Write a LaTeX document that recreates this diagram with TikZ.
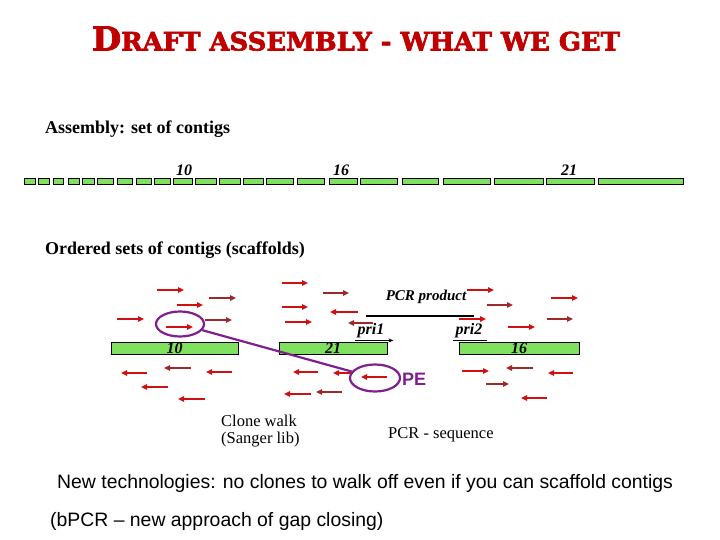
\documentclass[tikz,border=0pt]{standalone}
\usepackage{fontspec}
\setmainfont{Liberation Serif}
\newfontfamily\sansf{Liberation Sans}
\newfontfamily\ttlf[BoldFeatures={FakeBold=2.5}]{DejaVu Serif}
\usetikzlibrary{arrows.meta,shapes.geometric}
\definecolor{contig}{HTML}{80E060}
\definecolor{ttl}{HTML}{C00000}
\definecolor{arr}{HTML}{D01010}
\definecolor{arrd}{HTML}{A02828}
\definecolor{pur}{HTML}{7F1F8F}
\begin{document}
\begin{tikzpicture}[x=1pt,y=-1pt,
  seg/.style={draw=black,line width=0.6pt,fill=contig},
  bar/.style={draw=black,line width=0.8pt,fill=contig,inner sep=0pt,minimum height=12pt,font=\fontsize{16}{16}\selectfont\bfseries\itshape},
  rarr/.style={draw=arr,line width=2pt,-{Triangle[length=6pt,width=5.5pt]}},
  darr/.style={draw=arrd,line width=2pt,-{Triangle[length=6pt,width=5.5pt]}},
  ring/.style={ellipse,draw=pur,line width=2.2pt,inner sep=0pt},
  lbl/.style={font=\fontsize{16.5}{16.5}\selectfont,anchor=west,inner sep=0pt},
  head/.style={font=\fontsize{18}{18}\selectfont\bfseries,anchor=west,inner sep=0pt},
  toplbl/.style={font=\fontsize{16}{16}\selectfont\bfseries\itshape,inner sep=0pt,anchor=base},
  prim/.style={font=\fontsize{16}{16}\selectfont\bfseries\itshape,inner sep=0pt},
  sanstxt/.style={font=\sansf\fontsize{19.4}{19.4}\selectfont,anchor=west,inner sep=0pt}]
\useasboundingbox (0,0) rectangle (720,540);

% title
\node[text=ttl,inner sep=0pt,anchor=south] (title) at (356,51)
  {\resizebox{528pt}{24pt}{\ttlf\bfseries{\fontsize{26}{26}\selectfont D}{\fontsize{20}{20}\selectfont RAFT ASSEMBLY - WHAT WE GET}}};

\node[head] (asm) at (45,129) {Assembly: set of contigs};

% top row of contigs
\foreach \a/\b in {24/35,38/49,53/63,68/79,82/94,97/113,117/132,136/151,154/170,173/192,195/216,219/240,243/263,266/293,297/324,329/357,360/397,402/438,443/490,494/543,546/594,598/683}
  \draw[seg] (\a,178) rectangle (\b,184);
\node[toplbl] (t10) at (184,176) {10};
\node[toplbl] (t16) at (341,176) {16};
\node[toplbl] (t21) at (569,176) {21};

\node[head] (ord) at (45,250) {Ordered sets of contigs (scaffolds)};

% scaffold contigs
\node[bar,minimum width=127pt] (c10) at (174.5,348) {10};
\node[bar,minimum width=108pt] (c21) at (333,348) {21};
\node[bar,minimum width=120pt] (c16) at (519,348) {16};

% PCR product and primers
\node[font=\fontsize{15}{15}\selectfont\bfseries\itshape,inner sep=0pt] (pcr) at (426,297) {PCR product};
\coordinate (pcrA) at (366,316);
\coordinate (pcrB) at (474,316);
\draw[line width=2.6pt] (pcrA) -- (pcrB);
\node[prim] (p1) at (371,331) {pri1};
\node[prim] (p2) at (469,331) {pri2};
\draw[line width=1.2pt,-{Stealth[length=5pt,width=4pt]}] (p1.south west) ++(-2,2) -- ++(38,0);
\draw[line width=1.2pt] (p2.south west) ++(-2,2) -- ++(34,0);

% reads pointing right
\foreach \a/\b/\y in {157/184/290,177/203/305,117/144/319,166/193/327,282/308/283,282/308/307,285/312/322,467/494/290,459/486/319,508/535/327,551/578/298,462/489/371}
  \draw[rarr] (\a,\y) -- (\b,\y);
\foreach \a/\b/\y in {209/236/298,205/232/320,323/349/293,487/513/305,547/573/319,486/509/384}
  \draw[darr] (\a,\y) -- (\b,\y);
% reads pointing left
\foreach \a/\b/\y in {358/330/312,147/121/373,232/206/372,168/141/387,205/178/399,318/293/372,353/333/373,311/284/394,387/361/377,573/548/373,547/521/398}
  \draw[rarr] (\a,\y) -- (\b,\y);
\foreach \a/\b/\y in {373/348/323,191/164/368,342/316/392,533/506/368}
  \draw[darr] (\a,\y) -- (\b,\y);

% clone walk rings
\node[ring,minimum width=48pt,minimum height=25pt] (r1) at (180,324) {};
\node[ring,minimum width=50pt,minimum height=27pt] (r2) at (375,378) {};
\draw[pur,line width=2.2pt] (r1) -- (r2);
\node[font=\sansf\bfseries\fontsize{18}{18}\selectfont,text=pur,anchor=west,inner sep=0pt] (pe) at (402,379) {PE};

\node[lbl] (cw1) at (221,421) {Clone walk};
\node[lbl] (cw2) at (221,440) {(Sanger lib)};
\node[lbl] (pcrs) at (388,435) {PCR - sequence};

\node[sanstxt] (nt) at (57,483) {New technologies: no clones to walk off even if you can scaffold contigs};
\node[sanstxt] (bp) at (50,521) {(bPCR – new approach of gap closing)};
\end{tikzpicture}
\end{document}
